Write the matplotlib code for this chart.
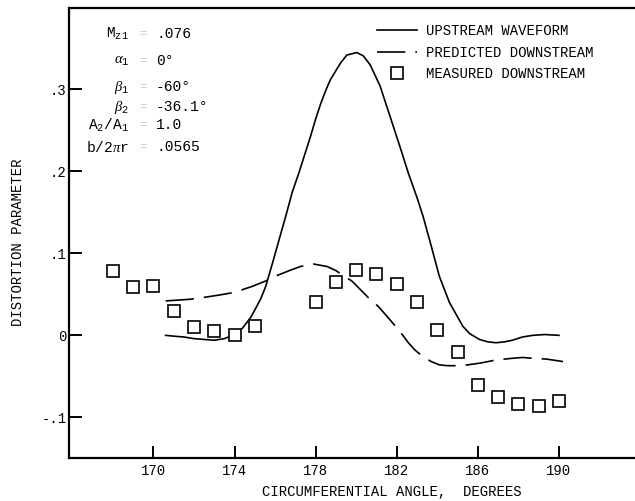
import matplotlib
matplotlib.use("Agg")
import matplotlib.pyplot as plt

plt.rcParams["font.family"] = ["Liberation Mono", "DejaVu Sans"]
plt.rcParams["mathtext.fontset"] = "custom"
plt.rcParams["mathtext.rm"] = "Liberation Mono"
plt.rcParams["mathtext.it"] = "Liberation Serif:italic"

# upstream waveform (solid)
up_x = [170.6, 171.0, 171.5, 172.0, 172.5, 173.0, 173.5, 174.0, 174.4, 174.8,
        175.0, 175.3, 175.54, 175.87, 176.2, 176.52, 176.85, 177.17, 177.75, 178.0,
        178.24, 178.5, 178.73, 179.22, 179.54, 180.03, 180.35, 180.69, 181.18, 181.67,
        182.16, 182.57, 183.0, 183.3, 183.7, 184.1, 184.6, 185.26, 185.6, 186.08,
        186.5, 186.9, 187.3, 187.7, 188.2, 188.7, 189.3, 190.0]
up_y = [0.0, -0.001, -0.002, -0.004, -0.005, -0.006, -0.004, 0.001, 0.009, 0.022,
        0.031, 0.045, 0.060, 0.088, 0.117, 0.145, 0.175, 0.198, 0.243, 0.264,
        0.282, 0.299, 0.312, 0.332, 0.342, 0.345, 0.341, 0.330, 0.304, 0.267,
        0.230, 0.198, 0.168, 0.145, 0.109, 0.072, 0.040, 0.011, 0.002, -0.005,
        -0.008, -0.009, -0.008, -0.006, -0.002, 0.0, 0.001, 0.0]

# predicted downstream (dashed)
pred_x = [170.6, 171.2, 171.8, 172.4, 173.2, 173.9, 174.3, 174.9, 175.6, 176.1,
          176.7, 177.25, 177.9, 178.56, 179.0, 179.3, 179.8, 180.2, 180.6, 181.1,
          181.7, 182.24, 182.57, 182.9, 183.3, 183.7, 184.1, 184.5, 184.94, 185.5,
          186.08, 186.5, 186.9, 187.3, 187.7, 188.2, 188.7, 189.4, 190.2]
pred_y = [0.042, 0.043, 0.044, 0.046, 0.049, 0.052, 0.055, 0.060, 0.067, 0.073,
          0.079, 0.084, 0.087, 0.084, 0.079, 0.074, 0.066, 0.056, 0.046, 0.035,
          0.018, 0.002, -0.009, -0.018, -0.026, -0.032, -0.036, -0.037, -0.037, -0.036,
          -0.034, -0.032, -0.030, -0.029, -0.028, -0.027, -0.028, -0.029, -0.032]

# measured downstream (squares)
meas_x = [168, 169, 170, 171, 172, 173, 174, 175, 178, 179, 180, 181, 182, 183,
          184, 185, 186, 187, 188, 189, 190]
meas_y = [0.078, 0.059, 0.060, 0.030, 0.010, 0.005, 0.001, 0.011, 0.041, 0.065,
          0.080, 0.075, 0.063, 0.041, 0.006, -0.020, -0.061, -0.075, -0.084, -0.086,
          -0.080]

x_ticks = [170, 174, 178, 182, 186, 190]
y_ticks = [-0.1, 0.0, 0.1, 0.2, 0.3]
y_tick_labels = ["-.1", "0", ".1", ".2", ".3"]

param_names = [r"M$_{\mathrm{z1}}$", r"$\alpha_{\mathrm{1}}$", r"$\beta_{\mathrm{1}}$",
               r"$\beta_{\mathrm{2}}$", r"A$_{\mathrm{2}}$/A$_{\mathrm{1}}$", r"b/2$\pi$r"]
param_values = [".076", "0°", "-60°", "-36.1°", "1.0", ".0565"]
param_rows_px = [34, 61, 87, 107, 125, 147]

W, H = 635, 501
fig = plt.figure(figsize=(W / 100, H / 100), dpi=100)
ax = fig.add_axes([69.3 / W, 1 - 458.3 / H, (634 - 69.3) / W, (458.3 - 8.3) / H])

ax.plot(up_x, up_y, color="black", lw=1.2, label="UPSTREAM WAVEFORM")
ax.plot(pred_x, pred_y, color="black", lw=1.2, dashes=(17, 6), label="PREDICTED DOWNSTREAM")
ax.plot(meas_x, meas_y, ls="none", marker="s", ms=8.5, mfc="white", mec="black",
        mew=1.2, label="MEASURED DOWNSTREAM")

ax.set_xlim(165.85, 193.7)
ax.set_ylim(-0.15, 0.399)
ax.set_xticks(x_ticks)
ax.set_xticklabels([str(t) for t in x_ticks])
ax.set_yticks(y_ticks)
ax.set_yticklabels(y_tick_labels)
ax.tick_params(direction="in", length=9, width=1.4, labelsize=10)
ax.tick_params(axis="x", pad=4)
ax.tick_params(axis="y", pad=2)

for s in ["left", "bottom", "top"]:
    ax.spines[s].set_linewidth(1.6)
ax.spines["right"].set_visible(False)

ax.set_xlabel("CIRCUMFERENTIAL ANGLE,  DEGREES", fontsize=10, va="center")
ax.xaxis.set_label_coords((392 - 69.3) / (634 - 69.3), -(492 - 458.3) / 450)
ax.set_ylabel("DISTORTION PARAMETER", fontsize=10, va="center")
ax.yaxis.set_label_coords(-(69.3 - 18) / (634 - 69.3), (458.3 - 242) / 450)

ax.legend(loc="upper left", bbox_to_anchor=(377 / W, 1 - 24 / H),
          bbox_transform=fig.transFigure, frameon=False, fontsize=10,
          handlelength=2.9, handletextpad=0.6, labelspacing=0.55,
          borderpad=0, borderaxespad=0, numpoints=1)

for name, val, ypx in zip(param_names, param_values, param_rows_px):
    fig.text(129 / W, 1 - ypx / H, name, ha="right", va="center", fontsize=10.5)
    fig.text(143 / W, 1 - ypx / H, "=", ha="center", va="center", fontsize=9, color="#c8c8c8")
    fig.text(156 / W, 1 - ypx / H, val, ha="left", va="center", fontsize=10.5)

fig.savefig("out.png", dpi=100)
